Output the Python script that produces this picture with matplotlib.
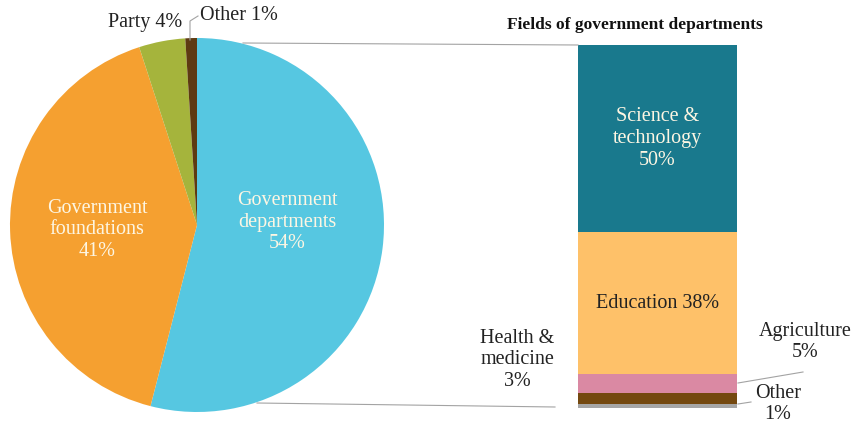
import matplotlib

matplotlib.use("Agg")
import matplotlib.pyplot as plt
from matplotlib.lines import Line2D

W, H = 857, 425
SERIF = ["Liberation Serif", "DejaVu Serif"]
plt.rcParams["font.family"] = SERIF

# pie: who funds
pie_labels = ["Government\ndepartments\n54%", "Government\nfoundations\n41%", "Party 4%", "Other 1%"]
pie_values = [54, 41, 4, 1]
pie_colors = ["#56c7e1", "#f5a030", "#a5b43c", "#5e3a12"]

# stacked bar: fields of government departments (bottom to top)
bar_labels = ["Other\n1%", "Health &\nmedicine\n3%", "Agriculture\n5%", "Education 38%", "Science &\ntechnology\n50%"]
bar_values = [1, 3, 5, 38, 50]
bar_colors = ["#a6a6a6", "#74480f", "#da89a3", "#fec169", "#19798d"]
LINE = "#a3a3a3"
CREAM = "#fdf6e3"


def fx(x):
    return x / W


def fy(y):
    return 1 - y / H


fig = plt.figure(figsize=(W / 100, H / 100), dpi=100, facecolor="white")

# pie axes: centre (197, 225), radius 187 px
ax_pie = fig.add_axes([fx(10), fy(412), 374 / W, 374 / H])
ax_pie.pie(pie_values, colors=pie_colors, startangle=90, counterclock=False,
           radius=1, wedgeprops=dict(linewidth=0))
ax_pie.set_xlim(-1, 1)
ax_pie.set_ylim(-1, 1)
ax_pie.set_aspect("auto")
ax_pie.axis("off")

# stacked bar axes
ax_bar = fig.add_axes([fx(578), fy(408), 159 / W, 363 / H])
bottom = 0
mids = []
for v, c in zip(bar_values, bar_colors):
    ax_bar.bar(0, v, bottom=bottom, width=1, color=c, linewidth=0)
    mids.append(bottom + v / 2)
    bottom += v
ax_bar.set_xlim(-0.5, 0.5)
ax_bar.set_ylim(0, sum(bar_values))
ax_bar.axis("off")

fs = 14.5
# pie labels
fig.text(fx(287), fy(222), pie_labels[0], ha="center", va="center", fontsize=fs,
         color=CREAM, linespacing=1.2)
fig.text(fx(97), fy(230), pie_labels[1], ha="center", va="center", fontsize=fs,
         color=CREAM, linespacing=1.2)
fig.text(fx(182), fy(22), pie_labels[2], ha="right", va="center", fontsize=fs, color="#222")
fig.text(fx(200), fy(15), pie_labels[3], ha="left", va="center", fontsize=fs, color="#222")
fig.add_artist(Line2D([fx(190), fx(190), fx(198)], [fy(40), fy(21), fy(16)],
                      transform=fig.transFigure, color=LINE, lw=0.8))

# bar labels
ax_bar.text(0, mids[4], bar_labels[4], ha="center", va="center", fontsize=fs,
            color=CREAM, linespacing=1.2)
ax_bar.text(0, mids[3], bar_labels[3], ha="center", va="center", fontsize=fs, color="#222")
fig.text(fx(517), fy(360), bar_labels[1], ha="center", va="center", fontsize=fs,
         color="#222", linespacing=1.2)
fig.text(fx(805), fy(342), bar_labels[2], ha="center", va="center", fontsize=fs,
         color="#222", linespacing=1.2)
fig.text(fx(778), fy(404), bar_labels[0], ha="center", va="center", fontsize=fs,
         color="#222", linespacing=1.2)
fig.add_artist(Line2D([fx(738), fx(803)], [fy(383), fy(372)],
                      transform=fig.transFigure, color=LINE, lw=0.8))
fig.add_artist(Line2D([fx(738), fx(751)], [fy(404), fy(402)],
                      transform=fig.transFigure, color=LINE, lw=0.8))

fig.text(fx(635), fy(25), "Fields of government departments", ha="center", va="center",
         fontsize=12.5, fontweight="bold", color="#111")

# connector lines pie -> bar
fig.add_artist(Line2D([fx(243), fx(578)], [fy(43), fy(45)],
                      transform=fig.transFigure, color=LINE, lw=0.8))
fig.add_artist(Line2D([fx(257), fx(555)], [fy(403), fy(407)],
                      transform=fig.transFigure, color=LINE, lw=0.8))

fig.savefig("out.png", dpi=100)
